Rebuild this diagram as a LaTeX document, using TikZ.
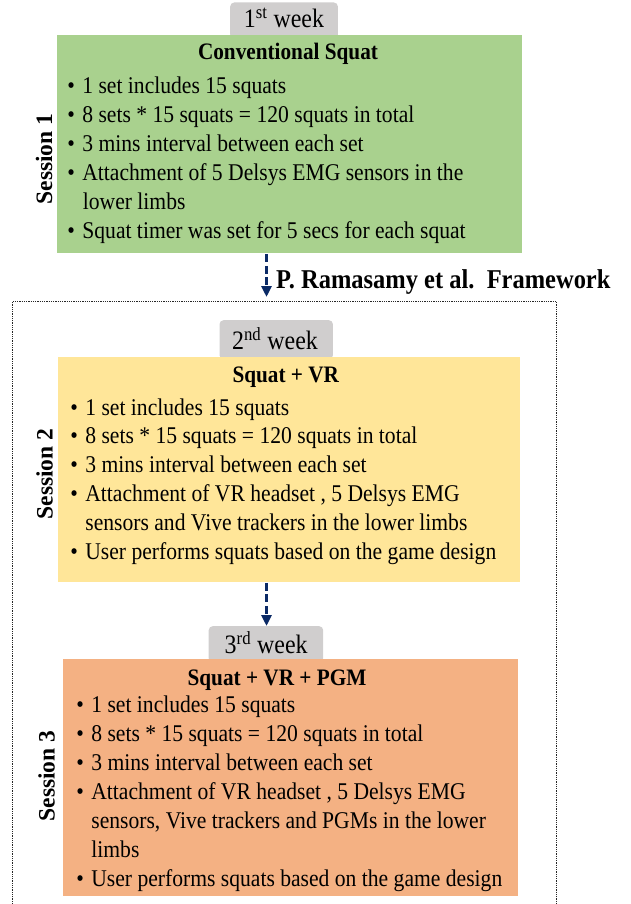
\documentclass[tikz,border=0pt]{standalone}
\usepackage{fontspec}
\setmainfont[FakeStretch=0.9]{Liberation Serif}
\newfontfamily\sessfont{Liberation Serif}
\usetikzlibrary{arrows.meta}
\definecolor{sgreen}{HTML}{A9D18E}
\definecolor{syellow}{HTML}{FFE699}
\definecolor{sorange}{HTML}{F4B183}
\definecolor{wgray}{HTML}{D0CECE}
\definecolor{navyblue}{HTML}{0B2A66}
\newcommand{\sqbul}{\makebox[15pt][l]{•}}
\begin{document}
\begin{tikzpicture}[x=1pt,y=-1pt,
  colbox/.style={rectangle, inner sep=0, draw=none, anchor=north west},
  weekbox/.style={rectangle, rounded corners=4pt, fill=wgray, inner sep=0, anchor=north west},
  weektext/.style={inner sep=0, anchor=base, font=\fontsize{26.6}{30}\selectfont},
  titletext/.style={inner sep=0, anchor=base, font=\fontsize{23.6}{29}\selectfont\bfseries},
  bodytext/.style={inner sep=0, anchor=base west, font=\fontsize{24}{29}\selectfont},
  sesslabel/.style={inner sep=0, anchor=base, rotate=90, font=\sessfont\fontsize{23.5}{28}\selectfont\bfseries},
  flowarrow/.style={draw=navyblue, line width=2.8pt, dash pattern=on 8pt off 3.5pt, -{Triangle[width=10pt,length=11pt]}},
  frameline/.style={draw=black!85, line width=1.2pt, dash pattern=on 1pt off 0.8pt, rectangle, inner sep=0, anchor=north west}
]
\useasboundingbox (0,0) rectangle (631,904);
% dotted frame
\node[frameline, minimum width=544pt, minimum height=611pt] (frame) at (12,301) {};
% week boxes
\node[weekbox, minimum width=107.7pt, minimum height=36pt] (w1) at (230,2.3) {};
\node[weekbox, minimum width=113.4pt, minimum height=39pt] (w2) at (219.3,320) {};
\node[weekbox, minimum width=114.5pt, minimum height=36pt] (w3) at (208.5,626) {};
% coloured boxes
\node[colbox, fill=sgreen, minimum width=465pt, minimum height=217.7pt] (green) at (57,35) {};
\node[colbox, fill=syellow, minimum width=462.5pt, minimum height=225.3pt] (yellow) at (57.5,356.7) {};
\node[colbox, fill=sorange, minimum width=455.3pt, minimum height=237pt] (orange) at (62.7,659) {};
% week texts
\node[weektext] (w1t) at (284,27.3) {1\textsuperscript{st} week};
\node[weektext] (w2t) at (275,349.3) {2\textsuperscript{nd} week};
\node[weektext] (w3t) at (266.2,653.5) {3\textsuperscript{rd} week};
% session labels
\node[sesslabel] (s1) at (52,159) {Session 1};
\node[sesslabel] (s2) at (52.6,474) {Session 2};
\node[sesslabel] (s3) at (54.7,776) {Session 3};
% arrows
\coordinate (ax) at (266.5,0);
\draw[flowarrow, shorten <=1.3pt, shorten >=4pt] (green.south -| ax) -- (frame.north -| ax);
\draw[flowarrow, shorten <=0.5pt] (yellow.south -| ax) -- (w3.north -| ax);
\node[inner sep=0, anchor=base west, font=\fontsize{27.2}{32}\selectfont\bfseries] (fw) at (276,288.5) {P.~Ramasamy et al.\ \ Framework};
% green content
\node[titletext] (gt) at (288,60) {Conventional Squat};
\node[bodytext] (g1) at (67.2,93.5) {\sqbul 1 set includes 15 squats};
\node[bodytext] (g2) at (67.2,122.5) {\sqbul 8 sets * 15 squats = 120 squats in total};
\node[bodytext] (g3) at (67.2,151.5) {\sqbul 3 mins interval between each set};
\node[bodytext] (g4) at (67.2,180.5) {\sqbul Attachment of 5 Delsys EMG sensors in the};
\node[bodytext] (g5) at (82.7,209.5) {lower limbs};
\node[bodytext] (g6) at (67.2,238.7) {\sqbul Squat timer was set for 5 secs for each squat};
% yellow content
\node[titletext] (yt) at (285.8,382.7) {Squat + VR};
\node[bodytext] (y1) at (70.2,415) {\sqbul 1 set includes 15 squats};
\node[bodytext] (y2) at (70.2,443.9) {\sqbul 8 sets * 15 squats = 120 squats in total};
\node[bodytext] (y3) at (70.2,472.8) {\sqbul 3 mins interval between each set};
\node[bodytext] (y4) at (70.2,501.7) {\sqbul Attachment of VR headset , 5 Delsys EMG};
\node[bodytext] (y5) at (85.2,530.6) {sensors and Vive trackers in the lower limbs};
\node[bodytext] (y6) at (70.2,559.5) {\sqbul User performs squats based on the game design};
% orange content
\node[titletext] (ot) at (277,685) {Squat + VR + PGM};
\node[bodytext] (o1) at (76.2,712.7) {\sqbul 1 set includes 15 squats};
\node[bodytext] (o2) at (76.2,741.6) {\sqbul 8 sets * 15 squats = 120 squats in total};
\node[bodytext] (o3) at (76.2,770.5) {\sqbul 3 mins interval between each set};
\node[bodytext] (o4) at (76.2,799.4) {\sqbul Attachment of VR headset , 5 Delsys EMG};
\node[bodytext] (o5) at (91.2,828.3) {sensors, Vive trackers and PGMs in the lower};
\node[bodytext] (o6) at (91.2,857.2) {limbs};
\node[bodytext] (o7) at (76.2,886.1) {\sqbul User performs squats based on the game design};
\end{tikzpicture}
\end{document}
